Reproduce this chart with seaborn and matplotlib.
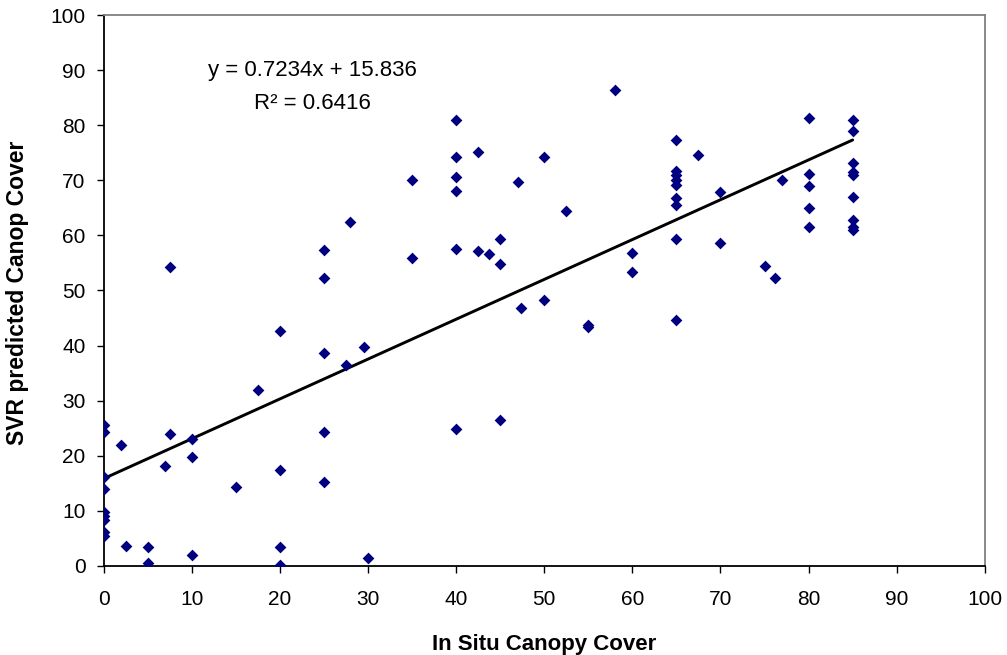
import matplotlib
matplotlib.use("Agg")
import matplotlib.pyplot as plt
import seaborn as sns
import numpy as np
import pandas as pd

# estilo com ticks para fora, textos em preto
sns.set_style("ticks", {
    "text.color": "black",
    "axes.labelcolor": "black",
    "xtick.color": "black",
    "ytick.color": "black",
})
plt.rcParams["font.family"] = ["Liberation Sans", "DejaVu Sans"]

# dados
in_situ = [
    0, 0, 0, 0, 0, 0, 0, 0, 0,
    2, 2.5, 5, 5, 7.5, 7, 7.5,
    10, 10, 10, 15, 17.5,
    20, 20, 20, 20,
    25, 25, 25, 25, 25,
    27.5, 28, 29.5, 30,
    35, 35,
    40, 40, 40, 40, 40, 40,
    42.5, 42.5, 43.7, 45, 45, 45,
    47, 47.4, 50, 50, 52.5, 55, 55, 58,
    60, 60,
    65, 65, 65, 65, 65, 65, 65, 65, 65,
    67.5, 70, 70, 75, 76.2, 77,
    80, 80, 80, 80, 80,
    85, 85, 85, 85, 85, 85, 85, 85, 85,
]
svr_pred = [
    25.5, 24.3, 16.1, 14.0, 9.8, 9.0, 8.3, 6.2, 5.4,
    22.0, 3.6, 3.4, 0.5, 24.0, 18.1, 54.2,
    23.1, 19.7, 1.9, 14.4, 31.9,
    42.6, 17.4, 3.4, 0.2,
    57.3, 52.2, 38.7, 24.3, 15.2,
    36.5, 62.4, 39.8, 1.4,
    70.0, 55.9,
    81.0, 74.3, 70.6, 68.1, 57.6, 24.8,
    75.1, 57.1, 56.7, 59.3, 54.8, 26.5,
    69.7, 46.9, 74.3, 48.3, 64.4, 43.8, 43.3, 86.4,
    56.8, 53.4,
    77.4, 71.7, 71.0, 70.1, 69.2, 66.7, 65.5, 59.3, 44.6,
    74.6, 67.8, 58.7, 54.5, 52.2, 70.1,
    81.3, 71.1, 68.9, 65.0, 61.6,
    81.0, 79.0, 73.2, 71.6, 71.0, 66.9, 62.8, 61.5, 60.9,
]

# linha de tendencia (equacao mostrada no grafico)
slope = 0.7234
intercept = 15.836
r2 = 0.6416

ticks = list(range(0, 101, 10))

base = pd.DataFrame({"in_situ": in_situ, "svr": svr_pred})

fig, ax = plt.subplots(figsize=(10.07, 6.55), dpi=100)
fig.subplots_adjust(left=0.1028, right=0.978, top=0.977, bottom=0.136)

# pontos
sns.scatterplot(
    data=base,
    x="in_situ",
    y="svr",
    marker="D",
    color="#000080",
    s=36,
    linewidth=0,
    ax=ax,
    zorder=3
)

# reta de regressao
xs = np.array([base["in_situ"].min(), base["in_situ"].max()])
sns.lineplot(
    x=xs,
    y=slope * xs + intercept,
    color="black",
    linewidth=2.1,
    ax=ax,
    zorder=2
)

# equacao
ax.text(23.7, 90.0, f"y = {slope}x + {intercept}",
        ha="center", va="center", fontsize=16)
ax.text(23.7, 84.0, f"R\u00b2 = {r2}",
        ha="center", va="center", fontsize=16)

# estetica
ax.set_xlim(0, 100)
ax.set_ylim(0, 100)
ax.set_xticks(ticks)
ax.set_yticks(ticks)
ax.tick_params(axis="both", labelsize=15, length=5, width=1,
               color="black")
ax.tick_params(axis="x", pad=12)
ax.tick_params(axis="y", pad=8)

ax.set_xlabel("In Situ Canopy Cover", fontsize=16, weight="bold", labelpad=18)
ax.set_ylabel("SVR predicted Canop Cover", fontsize=16.5, weight="bold")
ax.yaxis.set_label_coords(-0.085, 0.495)

for lado in ["left", "bottom"]:
    ax.spines[lado].set_color("black")
    ax.spines[lado].set_linewidth(1.3)
for lado in ["top", "right"]:
    ax.spines[lado].set_visible(True)
    ax.spines[lado].set_color("#808080")
    ax.spines[lado].set_linewidth(1.3)

fig.savefig("out.png", dpi=100)
